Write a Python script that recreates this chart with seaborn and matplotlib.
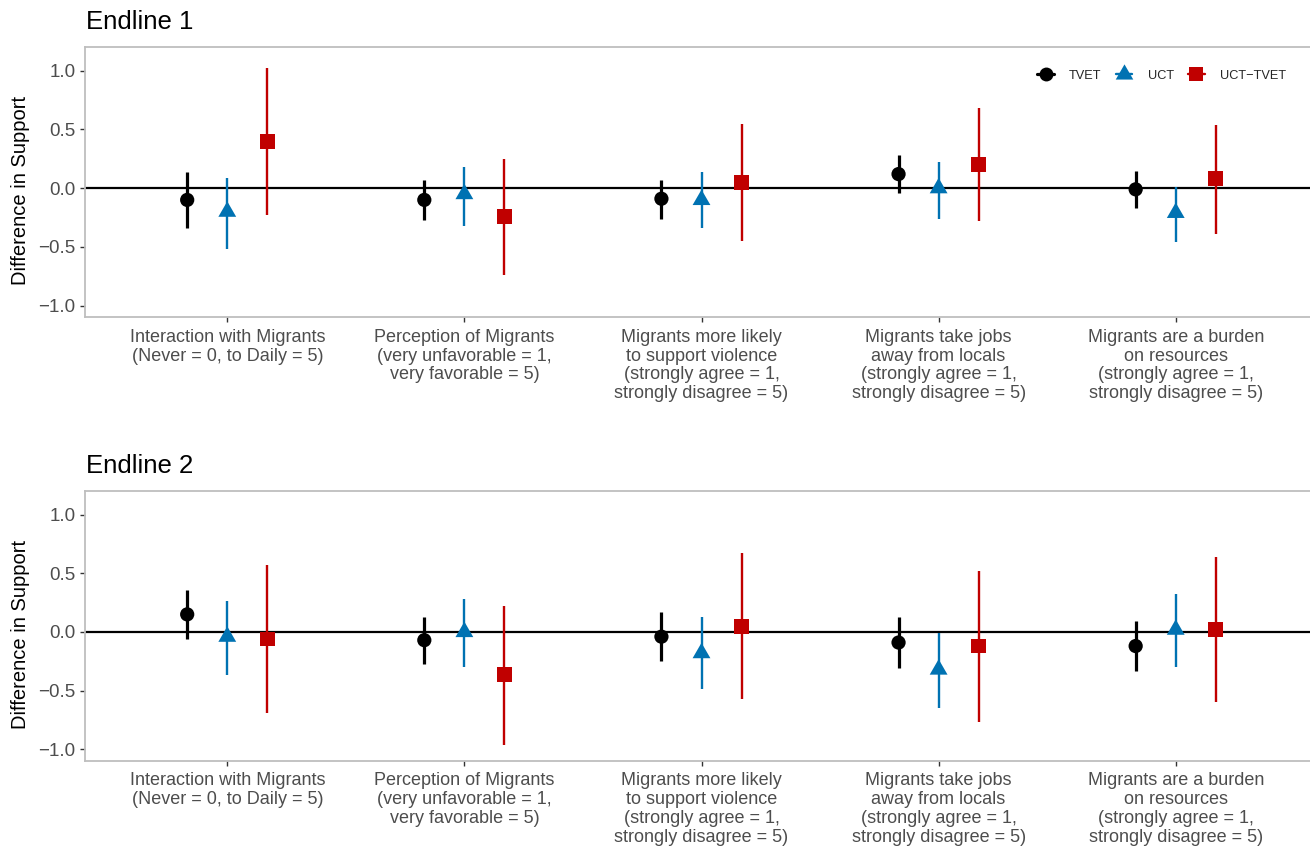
import numpy as np
import pandas as pd
import matplotlib
matplotlib.use("Agg")
import matplotlib.pyplot as plt
from matplotlib.lines import Line2D
from matplotlib.path import Path
import seaborn as sns

outcomes = [
    "Interaction with Migrants\n(Never = 0, to Daily = 5)",
    "Perception of Migrants\n(very unfavorable = 1,\nvery favorable = 5)",
    "Migrants more likely\nto support violence\n(strongly agree = 1,\nstrongly disagree = 5)",
    "Migrants take jobs\naway from locals\n(strongly agree = 1,\nstrongly disagree = 5)",
    "Migrants are a burden\non resources\n(strongly agree = 1,\nstrongly disagree = 5)",
]
groups = ["TVET", "UCT", "UCT\u2212TVET"]
panels = ["Endline 1", "Endline 2"]

# Endline 1 estimates and CIs
e1_tvet_est = [-0.10, -0.10, -0.09, 0.12, -0.01]
e1_tvet_lo = [-0.34, -0.27, -0.26, -0.04, -0.17]
e1_tvet_hi = [0.14, 0.07, 0.07, 0.28, 0.15]
e1_uct_est = [-0.20, -0.05, -0.10, 0.00, -0.21]
e1_uct_lo = [-0.52, -0.32, -0.34, -0.26, -0.46]
e1_uct_hi = [0.09, 0.18, 0.14, 0.22, 0.01]
e1_diff_est = [0.40, -0.24, 0.05, 0.20, 0.08]
e1_diff_lo = [-0.23, -0.74, -0.45, -0.28, -0.39]
e1_diff_hi = [1.02, 0.25, 0.55, 0.68, 0.54]

# Endline 2 estimates and CIs
e2_tvet_est = [0.15, -0.07, -0.04, -0.09, -0.12]
e2_tvet_lo = [-0.06, -0.27, -0.25, -0.31, -0.33]
e2_tvet_hi = [0.36, 0.13, 0.17, 0.13, 0.09]
e2_uct_est = [-0.04, 0.00, -0.18, -0.32, 0.02]
e2_uct_lo = [-0.37, -0.30, -0.49, -0.65, -0.30]
e2_uct_hi = [0.26, 0.28, 0.13, -0.01, 0.32]
e2_diff_est = [-0.06, -0.36, 0.05, -0.12, 0.02]
e2_diff_lo = [-0.69, -0.96, -0.57, -0.77, -0.60]
e2_diff_hi = [0.57, 0.22, 0.67, 0.52, 0.64]

rows = []
data = {
    "Endline 1": [(e1_tvet_est, e1_tvet_lo, e1_tvet_hi), (e1_uct_est, e1_uct_lo, e1_uct_hi),
                  (e1_diff_est, e1_diff_lo, e1_diff_hi)],
    "Endline 2": [(e2_tvet_est, e2_tvet_lo, e2_tvet_hi), (e2_uct_est, e2_uct_lo, e2_uct_hi),
                  (e2_diff_est, e2_diff_lo, e2_diff_hi)],
}
for p in panels:
    for g, (est, lo, hi) in zip(groups, data[p]):
        for i, o in enumerate(outcomes):
            rows.append(dict(panel=p, group=g, outcome_idx=i, est=est[i], lo=lo[i], hi=hi[i]))
df = pd.DataFrame(rows)

tri = Path([(-1, -0.577), (1, -0.577), (0, 1.155), (-1, -0.577)],
           [Path.MOVETO, Path.LINETO, Path.LINETO, Path.CLOSEPOLY])
colors = {"TVET": "#000000", "UCT": "#0072B2", "UCT\u2212TVET": "#C00000"}
markers = {"TVET": "o", "UCT": tri, "UCT\u2212TVET": "s"}
msizes = {"TVET": 105, "UCT": 220, "UCT\u2212TVET": 115}
lws = {"TVET": 2.3, "UCT": 1.7, "UCT\u2212TVET": 1.7}
offsets = {"TVET": -0.169, "UCT": 0.0, "UCT\u2212TVET": 0.169}
df["x"] = df["outcome_idx"] + 1 + df["group"].map(offsets)

sns.set_theme(style="white")
plt.rcParams["font.family"] = ["Liberation Sans", "DejaVu Sans"]

fig = plt.figure(figsize=(13.1, 8.47), dpi=100)
W, H = 1310, 847
LEFT, RIGHT = 85, 1318
axes_px = {"Endline 1": (47.3, 317.3), "Endline 2": (491.2, 761.0)}
title_y = {"Endline 1": 22, "Endline 2": 466}

for p in panels:
    top, bot = axes_px[p]
    ax = fig.add_axes([LEFT / W, 1 - bot / H, (RIGHT - LEFT) / W, (bot - top) / H])
    sub = df[df.panel == p]
    ax.axhline(0, color="black", lw=1.6, zorder=1)
    for g in groups:
        s = sub[sub.group == g]
        ax.vlines(s["x"], s["lo"], s["hi"], color=colors[g], lw=lws[g], zorder=2)
    sns.scatterplot(data=sub, x="x", y="est", hue="group", style="group",
                    palette=colors, markers=markers, size="group", sizes=msizes,
                    edgecolor="none", linewidth=0, legend=False, ax=ax, zorder=3)
    ax.set_xlim(0.4, 5.6)
    ax.set_ylim(-1.1, 1.2)
    ax.set_xticks(range(1, 6))
    ax.set_xticklabels(outcomes, fontsize=13, color="#4D4D4D", linespacing=1.14)
    ax.set_yticks([-1.0, -0.5, 0.0, 0.5, 1.0])
    ax.set_yticklabels(["\u22121.0", "\u22120.5", "0.0", "0.5", "1.0"], fontsize=13.5, color="#4D4D4D")
    ax.tick_params(axis="y", length=3.6, width=1, color="#333333", left=True, pad=3.2)
    ax.tick_params(axis="x", length=3.6, width=1, color="#333333", bottom=True, pad=4.6)
    ax.set_xlabel("")
    ax.set_ylabel("Difference in Support", fontsize=14.5, color="black")
    ax.yaxis.set_label_coords((30 - LEFT) / (RIGHT - LEFT), 0.47)
    for sp in ax.spines.values():
        sp.set_color("#BEBEBE")
        sp.set_linewidth(1.3)
    ax.grid(False)
    fig.text(86 / W, 1 - title_y[p] / H, p, fontsize=18.5, ha="left", va="center", color="black")
    if p == "Endline 1":
        handles = [Line2D([0], [0], color=colors[g], marker=markers[g], lw=lws[g],
                          markersize={"TVET": 10, "UCT": 14.6, "UCT\u2212TVET": 10.5}[g],
                          markeredgewidth=0) for g in groups]
        ax.legend(handles, groups, loc="center right",
                  bbox_to_anchor=((1286 - LEFT) / (RIGHT - LEFT), (bot - 75.7) / (bot - top)),
                  ncol=3, frameon=False, fontsize=9.2, handlelength=1.3, handletextpad=1.2,
                  columnspacing=1.1, borderpad=0, borderaxespad=0)

fig.savefig("out.png", dpi=100)
